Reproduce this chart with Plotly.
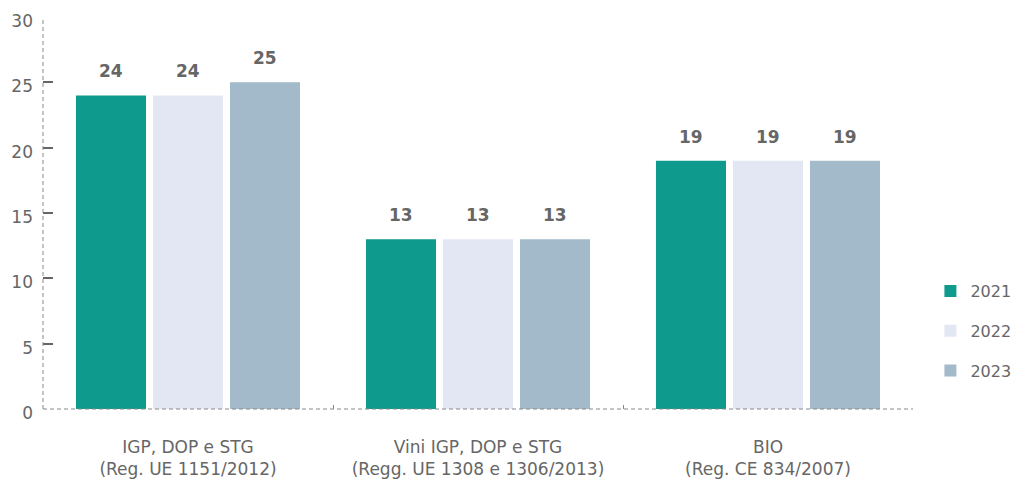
import plotly.graph_objects as go

categories = ["IGP, DOP e STG<br>(Reg. UE 1151/2012)",
              "Vini IGP, DOP e STG<br>(Regg. UE 1308 e 1306/2013)",
              "BIO<br>(Reg. CE 834/2007)"]
years = ["2021", "2022", "2023"]
values_2021 = [24, 13, 19]
values_2022 = [24, 13, 19]
values_2023 = [25, 13, 19]
series = [values_2021, values_2022, values_2023]
colors = ["#0E9A8C", "#E3E7F4", "#A3BACB"]

GREY = "#666666"
AXIS = "#888888"
FONT = "DejaVu Sans"

fig = go.Figure()
for i, (yr, vals) in enumerate(zip(years, series)):
    fig.add_trace(go.Bar(
        x=categories, y=vals, name=yr,
        marker=dict(color=colors[i], line=dict(width=0)),
        legendgroup=yr,
    ))
    for c, v in zip(categories, vals):
        fig.add_annotation(x=c, y=v, text=f"<b>{v}</b>", showarrow=False,
                           xshift=(i - 1) * 77, yshift=12, yanchor="bottom",
                           font=dict(family=FONT, size=17, color=GREY))

# dashed axis lines
fig.add_shape(type="line", xref="paper", yref="paper", x0=0, x1=1, y0=0, y1=0,
              line=dict(color=AXIS, width=1, dash="4px,3px"))
fig.add_shape(type="line", xref="paper", yref="paper", x0=0, x1=0, y0=0, y1=1,
              line=dict(color=AXIS, width=1, dash="4px,3px"))

fig.update_layout(
    width=1020, height=473, autosize=False,
    margin=dict(l=35, r=115, t=9, b=72),
    plot_bgcolor="white", paper_bgcolor="white",
    barmode="group", bargap=0.2034, bargroupgap=0.0909,
    font=dict(family=FONT, size=17, color=GREY),
    legend=dict(x=1.02, y=0.199, xanchor="left", yanchor="middle",
                font=dict(size=16, color=GREY), tracegroupgap=16,
                itemwidth=30),
    showlegend=True,
)
fig.update_yaxes(range=[0, 30], tick0=0, dtick=5, showgrid=False, zeroline=False,
                 showline=False, automargin=False, ticklabeloverflow="allow",
                 ticks="inside", ticklen=10, tickcolor="#666666", tickwidth=1.5,
                 tickfont=dict(size=17, color=GREY), ticklabelstandoff=9,
                 ticklabelshift=4)
fig.update_xaxes(showgrid=False, showline=False, automargin=False,
                 ticks="inside", ticklen=4, tickcolor=AXIS,
                 tickson="boundaries", ticklabelstandoff=26,
                 tickfont=dict(size=17, color=GREY))

fig.write_html("out.html")
